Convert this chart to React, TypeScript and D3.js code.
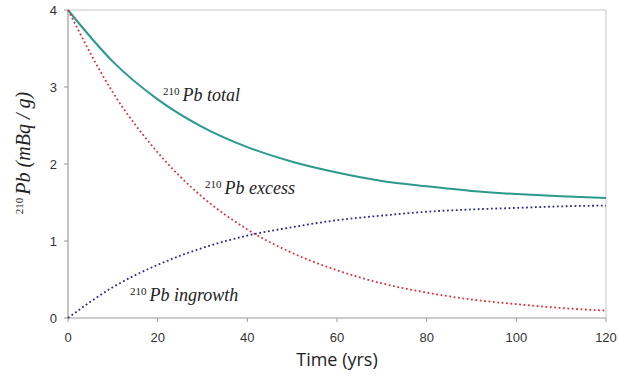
import React from "react";
import * as d3 from "d3";

const years = [0, 10, 20, 30, 40, 50, 60, 70, 80, 90, 100, 110, 120];
const totalPb = [4.0, 3.33, 2.84, 2.48, 2.22, 2.03, 1.89, 1.78, 1.71, 1.65, 1.61, 1.58, 1.56];
const excessPb = [4.0, 2.93, 2.15, 1.57, 1.15, 0.845, 0.62, 0.45, 0.33, 0.24, 0.18, 0.13, 0.096];
const ingrowthPb = [0, 0.4, 0.69, 0.91, 1.07, 1.18, 1.27, 1.33, 1.38, 1.41, 1.43, 1.45, 1.46];
const xTicks = [0, 20, 40, 60, 80, 100, 120];
const yTicks = [0, 1, 2, 3, 4];

const W = 618, H = 376;
const m = { left: 68, right: 12, top: 10, bottom: 58 };

export default function App() {
  const x = d3.scaleLinear().domain([0, 120]).range([m.left, W - m.right]);
  const y = d3.scaleLinear().domain([0, 4]).range([H - m.bottom, m.top]);
  const line = (vals: number[]) =>
    d3.line<number>().x((_, i) => x(years[i])).y((v) => y(v)).curve(d3.curveMonotoneX)(vals) || "";
  const serif = "'Liberation Serif', 'Times New Roman', serif";
  const sans = "'Liberation Sans', Arial, sans-serif";
  const x0 = x(0), x1 = x(120), y0 = y(0), y1 = y(4);
  const Lbl = ({ px, py, name }: { px: number; py: number; name: string }) => (
    <text x={px} y={py} fontFamily={serif} fill="#222">
      <tspan fontSize={11} dy={-6}>210</tspan>
      <tspan fontSize={18} fontStyle="italic" dx={3} dy={6}>{"Pb " + name}</tspan>
    </text>
  );
  return (
    <svg width={W} height={H} style={{ position: "absolute", left: 0, top: 0, background: "#fff" }}>
      <rect x={0} y={0} width={W} height={H} fill="#fff" />
      <line x1={x0} x2={x1} y1={y1} y2={y1} stroke="#c8c8c8" strokeWidth={1} />
      <line x1={x1} x2={x1} y1={y1} y2={y0} stroke="#c8c8c8" strokeWidth={1} />
      <line x1={x0} x2={x0} y1={y1} y2={y0} stroke="#9a9a9a" strokeWidth={1.2} />
      <line x1={x0} x2={x1} y1={y0} y2={y0} stroke="#9a9a9a" strokeWidth={1.2} />
      {yTicks.map((t) => (
        <g key={"y" + t}>
          <line x1={x0 - 4} x2={x0} y1={y(t)} y2={y(t)} stroke="#9a9a9a" />
          <text x={x0 - 11} y={y(t)} dy="0.35em" textAnchor="end" fontFamily={sans} fontSize={13} fill="#333">{t}</text>
        </g>
      ))}
      {xTicks.map((t) => (
        <g key={"x" + t}>
          <line x1={x(t)} x2={x(t)} y1={y0} y2={y0 + 4} stroke="#9a9a9a" />
          <text x={x(t)} y={y0 + 24} textAnchor="middle" fontFamily={sans} fontSize={13} fill="#333">{t}</text>
        </g>
      ))}
      <path d={line(totalPb)} fill="none" stroke="#2a9a8c" strokeWidth={2} />
      <path d={line(excessPb)} fill="none" stroke="#e0303a" strokeWidth={1.8} strokeDasharray="1.8,2.6" />
      <path d={line(ingrowthPb)} fill="none" stroke="#2c2c8a" strokeWidth={1.8} strokeDasharray="1.8,2.6" />
      <Lbl px={163} py={101} name="total" />
      <Lbl px={205} py={194} name="excess" />
      <Lbl px={130} py={301} name="ingrowth" />
      <text x={(x0 + x1) / 2} y={366} textAnchor="middle" fontFamily="'Open Sans', sans-serif" fontSize={18} fill="#222">Time (yrs)</text>
      <text transform="translate(30,153) rotate(-90)" textAnchor="middle" fontFamily={serif} fill="#222">
        <tspan fontSize={11} dy={-7}>210</tspan>
        <tspan fontSize={20} fontStyle="italic" dx={3} dy={7}>Pb (mBq / g)</tspan>
      </text>
    </svg>
  );
}
